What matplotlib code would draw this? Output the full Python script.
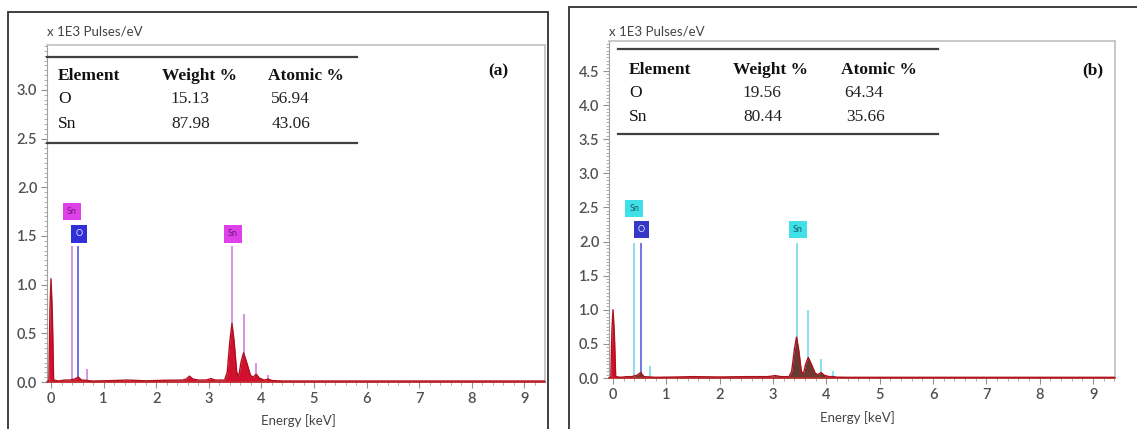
import matplotlib
matplotlib.use("Agg")
import matplotlib.pyplot as plt
import numpy as np
from matplotlib.lines import Line2D
from matplotlib.patches import Rectangle
from matplotlib.ticker import MultipleLocator, FormatStrFormatter

W, H = 1137, 429

# ---------------- data ----------------
# panel (a) spectrum (keV, x1E3 pulses/eV)
energy_a = [-0.07, -0.04, -0.02, 0.0, 0.025, 0.05, 0.15, 0.25, 0.35, 0.45, 0.52, 0.58,
            0.8, 1.2, 1.45, 1.8, 2.2, 2.5, 2.57, 2.63, 2.70, 2.8, 2.95, 3.04, 3.12,
            3.3, 3.35, 3.40, 3.44, 3.48, 3.53, 3.57, 3.61, 3.66, 3.72, 3.79, 3.84,
            3.9, 3.96, 4.05, 4.13, 4.2, 4.4, 5.0, 6.0, 7.0, 8.0, 9.0, 9.4]
counts_a = [0.0, 0.02, 0.75, 1.06, 0.7, 0.02, 0.01, 0.02, 0.02, 0.03, 0.05, 0.02,
            0.01, 0.015, 0.02, 0.012, 0.018, 0.02, 0.03, 0.06, 0.03, 0.02, 0.02, 0.035, 0.02,
            0.02, 0.1, 0.42, 0.6, 0.42, 0.1, 0.06, 0.2, 0.3, 0.2, 0.07, 0.05,
            0.08, 0.04, 0.02, 0.03, 0.015, 0.01, 0.01, 0.01, 0.01, 0.01, 0.01, 0.01]

# panel (b) spectrum
energy_b = [-0.07, -0.04, -0.02, 0.0, 0.025, 0.05, 0.15, 0.25, 0.35, 0.45, 0.52, 0.58,
            0.8, 1.2, 1.5, 2.0, 2.5, 2.9, 3.04, 3.15, 3.3, 3.35, 3.40, 3.44, 3.48,
            3.53, 3.57, 3.61, 3.66, 3.72, 3.79, 3.84, 3.9, 3.96, 4.05, 4.13, 4.2,
            4.4, 5.0, 6.0, 7.0, 8.0, 9.0, 9.4]
counts_b = [0.0, 0.02, 0.7, 1.0, 0.65, 0.02, 0.01, 0.02, 0.02, 0.04, 0.08, 0.02,
            0.01, 0.015, 0.02, 0.015, 0.02, 0.02, 0.035, 0.02, 0.02, 0.1, 0.42, 0.6, 0.42,
            0.1, 0.06, 0.2, 0.3, 0.2, 0.07, 0.05, 0.08, 0.04, 0.02, 0.02, 0.012,
            0.01, 0.01, 0.01, 0.01, 0.01, 0.01, 0.01]

# element marker lines
sn_line_kev = [0.39, 3.44, 0.69, 3.66, 3.90, 4.13]
sn_line_h_a = [1.40, 1.40, 0.13, 0.70, 0.20, 0.07]
sn_line_h_b = [1.98, 1.98, 0.18, 1.00, 0.28, 0.10]
o_line_kev = [0.52]
o_line_h_a = [1.40]
o_line_h_b = [1.98]

# element label boxes
label_text = ["Sn", "O", "Sn"]
label_kev = [0.40, 0.53, 3.46]
label_y_a = [1.75, 1.52, 1.52]
label_y_b = [2.49, 2.18, 2.18]

# composition tables
tbl_header = ["Element", "Weight %", "Atomic %"]
tbl_elements = ["O", "Sn"]
weight_a = ["15.13", "87.98"]
atomic_a = ["56.94", "43.06"]
weight_b = ["19.56", "80.44"]
atomic_b = ["64.34", "35.66"]

x_ticks = list(range(0, 10))

# ---------------- figure ----------------
fig = plt.figure(figsize=(W / 100, H / 100), dpi=100)
fig.patch.set_facecolor("white")

def fx(x):
    return x / W

def fy(y):
    return 1 - y / H

SANS = ["Lato", "DejaVu Sans"]
SERIF = ["Liberation Serif", "DejaVu Serif"]
TICK_C = "#505050"

def make_axes(l, r, t, b, xlim, ylim):
    ax = fig.add_axes([fx(l), fy(b), fx(r) - fx(l), (b - t) / H])
    ax.set_xlim(*xlim)
    ax.set_ylim(*ylim)
    for s in ["top", "right"]:
        ax.spines[s].set_color("#c0c0c0")
        ax.spines[s].set_linewidth(1.2)
    ax.spines["left"].set_color("#a0a0a0")
    ax.spines["bottom"].set_color("#c0302e")
    ax.spines["bottom"].set_linewidth(1.2)
    ax.xaxis.set_major_locator(MultipleLocator(1))
    ax.xaxis.set_minor_locator(MultipleLocator(0.2))
    ax.yaxis.set_major_locator(MultipleLocator(0.5))
    ax.yaxis.set_minor_locator(MultipleLocator(0.05))
    ax.yaxis.set_major_formatter(FormatStrFormatter("%.1f"))
    ax.set_xticks(x_ticks)
    ax.tick_params(axis="both", which="major", direction="out", length=4,
                   color="#909090", labelcolor=TICK_C, labelsize=10.5, pad=3)
    ax.tick_params(axis="both", which="minor", direction="out", length=2.5,
                   color="#a0a0a0")
    for lab in ax.get_xticklabels() + ax.get_yticklabels():
        lab.set_fontfamily(SANS)
        lab.set_fontweight("semibold")
    return ax

def draw_panel(ax, energy, counts, sn_h, o_h, label_y, sn_col, sn_box, sn_txt,
               o_col, o_box, fill_main, zero_fill):
    e = np.array(energy)
    c = np.array(counts)
    ax.fill_between(e, 0, c, where=e <= 0.06, color=zero_fill, lw=0, zorder=2,
                    interpolate=True)
    ax.fill_between(e, 0, c, where=e >= 0.04, color=fill_main, lw=0, zorder=2,
                    interpolate=True)
    ax.plot(e, c, color="#b0101e", lw=1.0, zorder=3)
    ax.vlines(sn_line_kev, 0, sn_h, colors=sn_col, lw=1.1, zorder=1)
    ax.vlines(o_line_kev, 0, o_h, colors=o_col, lw=1.1, zorder=1)
    for txt, xk, yk in zip(label_text, label_kev, label_y):
        if txt == "O":
            fc, tc = o_box, "#e8e8ff"
        else:
            fc, tc = sn_box, sn_txt
        ax.text(xk, yk, txt, ha="center", va="center", fontsize=6.5,
                family=SANS, color=tc, zorder=5,
                bbox=dict(boxstyle="square,pad=0.45", fc=fc, ec="none"))

def draw_table(x0, x1, ytop, ybot, yrows, xcols, xvals, weights, atomics):
    for yy in (ytop, ybot):
        fig.add_artist(Line2D([fx(x0), fx(x1)], [fy(yy), fy(yy)],
                              transform=fig.transFigure, color="#404040", lw=1.6))
    for txt, xc in zip(tbl_header, xcols):
        fig.text(fx(xc), fy(yrows[0]), txt, ha="left", va="center",
                 fontsize=12.5, fontweight="bold", family=SERIF, color="#111111")
    for i, el in enumerate(tbl_elements):
        yy = fy(yrows[i + 1])
        fig.text(fx(xcols[0]), yy, el, ha="left", va="center", fontsize=12.5,
                 family=SERIF, color="#111111")
        fig.text(fx(xvals[i][0]), yy, weights[i], ha="left", va="center",
                 fontsize=12.5, family=SERIF, color="#222222")
        fig.text(fx(xvals[i][1]), yy, atomics[i], ha="left", va="center",
                 fontsize=12.5, family=SERIF, color="#222222")

# outer frames
fig.add_artist(Rectangle((fx(8), fy(440)), fx(548) - fx(8), (440 - 12) / H,
                         transform=fig.transFigure, fill=False, ec="#303030", lw=1.3))
fig.add_artist(Rectangle((fx(569), fy(440)), fx(1140) - fx(569), (440 - 7) / H,
                         transform=fig.transFigure, fill=False, ec="#303030", lw=1.3))

# panel (a)
axa = make_axes(47, 545, 45, 382, (-0.076, 9.39), (0, 3.46))
draw_panel(axa, energy_a, counts_a, sn_line_h_a, o_line_h_a, label_y_a,
           sn_col="#cc77dd", sn_box="#e040e8", sn_txt="#6a1a7a",
           o_col="#4a4ae0", o_box="#3030d8", fill_main="#d21030", zero_fill="#d21030")
fig.text(fx(47), fy(32), "x 1E3 Pulses/eV", ha="left", va="center", fontsize=9.5,
         family=SANS, color="#444444")
fig.text(fx(298), fy(421), "Energy [keV]", ha="center", va="center", fontsize=9.5,
         family=SANS, color="#444444")
fig.text(fx(498), fy(71), "(a)", ha="center", va="center", fontsize=12.5,
         fontweight="bold", family=SERIF, color="#111111")
draw_table(47, 357, 57, 143, [76, 99, 124], [58, 162, 268],
           [(170, 271), (171, 272)], weight_a, atomic_a)

# panel (b)
axb = make_axes(609, 1115, 41, 378, (-0.075, 9.41), (0, 4.94))
draw_panel(axb, energy_b, counts_b, sn_line_h_b, o_line_h_b, label_y_b,
           sn_col="#66d8e8", sn_box="#40e0e8", sn_txt="#1a5a6a",
           o_col="#5050d8", o_box="#3838c8", fill_main="#6a3a30", zero_fill="#d01028")
fig.text(fx(609), fy(32), "x 1E3 Pulses/eV", ha="left", va="center", fontsize=9.5,
         family=SANS, color="#444444")
fig.text(fx(857), fy(418), "Energy [keV]", ha="center", va="center", fontsize=9.5,
         family=SANS, color="#444444")
fig.text(fx(1093), fy(70), "(b)", ha="center", va="center", fontsize=12.5,
         fontweight="bold", family=SERIF, color="#111111")
draw_table(618, 938, 49, 134, [70, 93, 117], [629, 733, 841],
           [(742, 844), (743, 846)], weight_b, atomic_b)

fig.savefig("out.png", dpi=100, facecolor="white")
